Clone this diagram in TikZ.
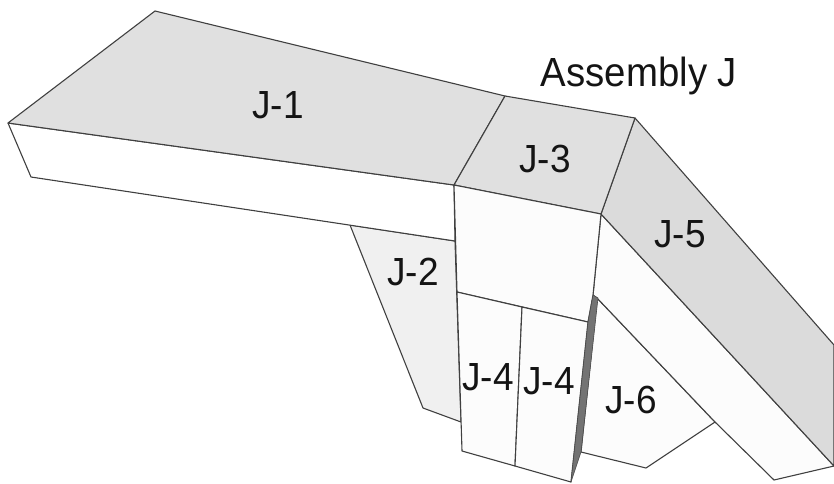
\documentclass[tikz,border=0pt]{standalone}
\usepackage{graphicx}
\usepackage{fontspec}
\setmainfont{Liberation Sans}
\newcommand{\talltext}[1]{\scalebox{1}[1.06]{#1}}
\tikzset{
  edge/.style={draw=black!75,line width=1.1pt,line join=round},
  top/.style={edge,fill=black!12},
  side/.style={edge,fill=black!1},
  pale/.style={edge,fill=black!6},
  lbl/.style={inner sep=0pt,text=black!92,font=\fontsize{37}{37}\selectfont},
  ttl/.style={inner sep=0pt,text=black!92,font=\fontsize{38.4}{38.4}\selectfont}
}
\begin{document}
\begin{tikzpicture}[x=1pt,y=-1pt]
\useasboundingbox (0,0) rectangle (834,483);
% J-2 and J-6 behind
\path[pale] (350,225) -- (423,408) -- (461,422) -- (455,241) -- cycle;
\path[side] (597,298) -- (715,422) -- (646,468) -- (581,452) -- cycle;
% J-1
\path[edge,fill=white] (8,123) -- (31,177) -- (455,241) -- (454,185) -- cycle;
\path[top] (8,123) -- (155,11) -- (505,96) -- (454,185) -- cycle;
% J-5
\path[side] (601,214) -- (834,466) -- (774,480) -- (715,422) -- (597,298) -- (593,295) -- cycle;
\path[top,fill=black!14] (635,118) -- (601,214) -- (834,466) -- (834,345) -- cycle;
% J-3
\path[top] (505,96) -- (635,118) -- (601,214) -- (454,185) -- cycle;
% column
\path[side] (454,185) -- (601,214) -- (593,295) -- (588,322) -- (457,292) -- cycle;
% J-4
\path[side] (457,292) -- (522,307) -- (515,466) -- (462,451) -- cycle;
\path[side] (522,307) -- (588,322) -- (571,482) -- (515,466) -- cycle;
\path[draw=black!70,fill=black!55,line width=.6pt,line join=round] (588,322) -- (593,295) -- (598,298) -- (581,452) -- (571,482) -- cycle;
% labels
\node[lbl] (j1) at (278,105) {\talltext{J-1}};
\node[lbl] (j2) at (413,272) {\talltext{J-2}};
\node[lbl] (j3) at (545,159) {\talltext{J-3}};
\node[lbl] (j4a) at (488,377) {\talltext{J-4}};
\node[lbl] (j4b) at (549,381) {\talltext{J-4}};
\node[lbl] (j5) at (680,234) {\talltext{J-5}};
\node[lbl] (j6) at (631,400) {\talltext{J-6}};
\node[ttl] (title) at (639,76) {\talltext{Assembly J}};
\end{tikzpicture}
\end{document}
